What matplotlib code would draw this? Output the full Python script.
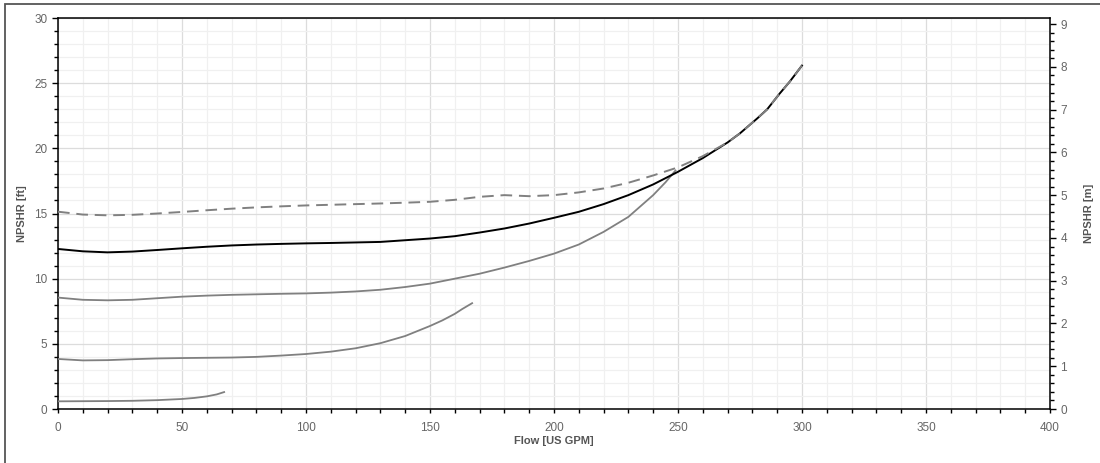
import numpy as np
import matplotlib
matplotlib.use('Agg')
import matplotlib.pyplot as plt
from matplotlib.patches import Rectangle
from matplotlib.ticker import MultipleLocator

plt.rcParams['font.family'] = ['Liberation Sans', 'DejaVu Sans']

# NPSHR curves (flow in US GPM, NPSHR in ft)
q_main = [0, 10, 20, 30, 40, 50, 60, 70, 80, 90, 100, 110, 120, 130, 140, 150, 160, 170, 180, 190,
          200, 210, 220, 230, 240, 250, 260, 270, 275, 282, 286, 291, 295, 300]
h_main = [12.28, 12.1, 12.02, 12.08, 12.2, 12.33, 12.45, 12.55, 12.62, 12.67, 12.71, 12.74, 12.78, 12.82,
          12.95, 13.08, 13.26, 13.54, 13.85, 14.23, 14.67, 15.13, 15.72, 16.41, 17.23, 18.2, 19.25, 20.45,
          21.15, 22.3, 23.0, 24.2, 25.1, 26.35]

q_dash = [0, 10, 20, 30, 40, 50, 60, 70, 80, 90, 100, 110, 120, 130, 140, 150, 160, 170, 180, 190,
          200, 210, 220, 230, 240, 250, 260, 270, 275, 282, 286, 291, 295, 300]
h_dash = [15.14, 14.92, 14.86, 14.9, 15.0, 15.12, 15.25, 15.37, 15.47, 15.55, 15.62, 15.67, 15.72, 15.77,
          15.83, 15.9, 16.05, 16.28, 16.41, 16.33, 16.41, 16.62, 16.92, 17.36, 17.92, 18.54, 19.4, 20.45,
          21.15, 22.3, 23.0, 24.2, 25.1, 26.35]

q_d3 = [0, 10, 20, 30, 40, 50, 60, 70, 80, 90, 100, 110, 120, 130, 140, 150, 160, 170, 180, 190,
        200, 210, 220, 230, 240, 245, 249]
h_d3 = [8.55, 8.38, 8.34, 8.38, 8.5, 8.62, 8.7, 8.76, 8.8, 8.84, 8.87, 8.93, 9.02, 9.15, 9.36, 9.62,
        10.0, 10.38, 10.85, 11.36, 11.92, 12.62, 13.59, 14.74, 16.41, 17.4, 18.3]

q_d4 = [0, 10, 20, 30, 40, 50, 60, 70, 80, 90, 100, 110, 120, 130, 140, 150, 155, 160, 163, 167]
h_d4 = [3.84, 3.73, 3.75, 3.82, 3.88, 3.91, 3.93, 3.95, 4.0, 4.1, 4.22, 4.4, 4.66, 5.05, 5.6, 6.37,
        6.8, 7.3, 7.67, 8.12]

q_d5 = [0, 10, 20, 30, 40, 50, 55, 60, 64, 67]
h_d5 = [0.59, 0.6, 0.61, 0.63, 0.68, 0.77, 0.85, 0.97, 1.12, 1.3]

fig = plt.figure(figsize=(11, 4.63), dpi=100)
ax = fig.add_axes([0.0527, 0.1166, 0.9018, 0.8445])

# outer frame (only left and top are visible)
fig.patches.append(Rectangle((5/1100, -0.2), 1.5, (463-4)/463 + 0.2, transform=fig.transFigure,
                             fill=False, edgecolor='#555555', linewidth=1.3))

ax.plot(q_d5, h_d5, color='#808080', lw=1.3, zorder=3)
ax.plot(q_d4, h_d4, color='#808080', lw=1.3, zorder=3)
ax.plot(q_d3, h_d3, color='#808080', lw=1.3, zorder=3)
ax.plot(q_main, h_main, color='black', lw=1.4, zorder=4)
ax.plot(q_dash, h_dash, color='#808080', lw=1.4, ls=(0, (6, 3.5)), zorder=5)

ax.set_xlim(0, 400)
ax.set_ylim(0, 30)
ax.xaxis.set_major_locator(MultipleLocator(50))
ax.xaxis.set_minor_locator(MultipleLocator(10))
ax.yaxis.set_major_locator(MultipleLocator(5))
ax.yaxis.set_minor_locator(MultipleLocator(1))
ax.grid(which='major', color='#dcdcdc', lw=0.9)
ax.grid(which='minor', color='#f0f0f0', lw=0.9)
ax.set_axisbelow(True)

for s in ax.spines.values():
    s.set_color('black')
    s.set_linewidth(1.1)

ax.tick_params(which='both', direction='out', colors='black', labelcolor='#666666', labelsize=8.5)
ax.tick_params(axis='y', which='major', length=4, width=1)
ax.tick_params(axis='y', which='minor', length=3, width=1)
ax.tick_params(axis='x', which='both', length=3, width=1)
ax.tick_params(axis='x', which='major', pad=6)

ax.set_xlabel('Flow [US GPM]', fontsize=8, fontweight='bold', color='#555555', labelpad=2)
ax.set_ylabel('NPSHR [ft]', fontsize=8, fontweight='bold', color='#555555', labelpad=5)

ax2 = ax.twinx()
ax2.set_ylim(0, 30 * 0.3048)
ax2.yaxis.set_major_locator(MultipleLocator(1))
ax2.yaxis.set_minor_locator(MultipleLocator(0.2))
ax2.tick_params(which='both', direction='out', colors='black', labelcolor='#666666', labelsize=8.5)
ax2.tick_params(which='major', length=4, width=1)
ax2.tick_params(which='minor', length=3, width=1)
for s in ax2.spines.values():
    s.set_visible(False)
ax2.set_ylabel('NPSHR [m]', fontsize=8, fontweight='bold', color='#555555', labelpad=12)

plt.savefig('out.png', dpi=100)
